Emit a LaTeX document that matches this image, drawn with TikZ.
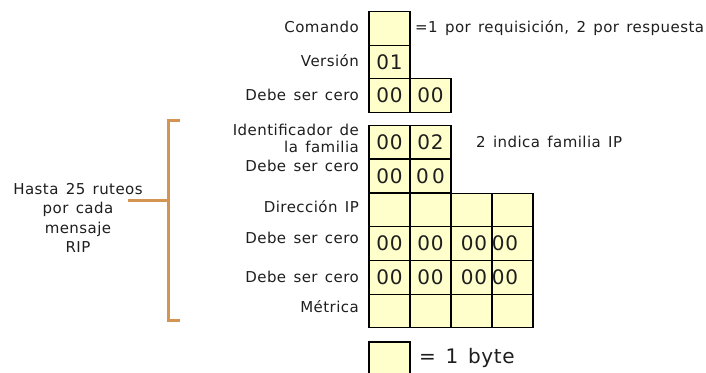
\documentclass[tikz,border=0pt]{standalone}
\usepackage{fontspec}
\setmainfont[WordSpace=1.4,LetterSpace=3]{DejaVu Sans}
\definecolor{cellfill}{RGB}{255,255,204}
\definecolor{brk}{RGB}{212,148,82}
\definecolor{txt}{RGB}{30,30,30}
\tikzset{
  cell/.style={draw=black, line width=1.3pt, fill=cellfill, minimum width=41pt, minimum height=33.6pt, inner sep=0pt, outer sep=0pt, font=\fontsize{20}{24}\selectfont, text=txt},
  digits/.style={inner sep=0pt, font=\fontsize{20}{24}\selectfont, text=txt},
  lbl/.style={anchor=east, inner sep=0pt, font=\fontsize{15}{16.5}\selectfont, text=txt, align=right},
  note/.style={anchor=west, inner sep=0pt, font=\fontsize{15}{18}\selectfont, text=txt},
  bracket/.style={draw=brk, line width=3pt}
}
\begin{document}
\begin{tikzpicture}[x=1pt,y=-1pt]
\useasboundingbox (0,0) rectangle (706,372);
% top group
\node[cell] (com) at (389.5,28.5) {};
\node[cell] (ver) at (389.5,62) {01};
\node[cell] (d1a) at (389.5,95.5) {00};
\node[cell] (d1b) at (430.5,95.5) {00};
% route entry
\node[cell] (fa) at (389.5,142) {00};
\node[cell] (fb) at (430.5,142) {02};
\node[cell] (d2a) at (389.5,176) {00};
\node[cell] (d2b) at (430.5,176) {0\,0};
\node[cell] (ipa) at (389.5,210) {};
\node[cell] (ipb) at (430.5,210) {};
\node[cell] (ipc) at (471.5,210) {};
\node[cell] (ipd) at (512.5,210) {};
\node[cell] (d3a) at (389.5,243.5) {00};
\node[cell] (d3b) at (430.5,243.5) {00};
\node[cell] (d3c) at (471.5,243.5) {};
\node[cell] (d3d) at (512.5,243.5) {};
\node[cell] (d4a) at (389.5,277.5) {00};
\node[cell] (d4b) at (430.5,277.5) {00};
\node[cell] (d4c) at (471.5,277.5) {};
\node[cell] (d4d) at (512.5,277.5) {};
\node[cell] (ma) at (389.5,311) {};
\node[cell] (mb) at (430.5,311) {};
\node[cell] (mc) at (471.5,311) {};
\node[cell] (md) at (512.5,311) {};
\node[digits] (t3c) at (474,243.5) {00};
\node[digits] (t3d) at (505,243.5) {00};
\node[digits] (t4c) at (474,277.5) {00};
\node[digits] (t4d) at (505,277.5) {00};
% legend
\node[cell, minimum height=32pt] (leg) at (389.5,358) {};
\node[anchor=west, inner sep=0pt, font=\fontsize{20}{24}\selectfont, text=txt] (legt) at (419,358) {= 1 byte};
% labels
\node[lbl] (lcom) at (359,27) {Comando};
\node[lbl] (lver) at (359,61) {Versión};
\node[lbl] (ld1) at (359,95) {Debe ser cero};
\node[lbl] (lfam) at (359,138.5) {Identificador de\\la familia};
\node[lbl] (ld2) at (359,166) {Debe ser cero};
\node[lbl] (lip) at (359,207) {Dirección IP};
\node[lbl] (ld3) at (359,238) {Debe ser cero};
\node[lbl] (ld4) at (359,277) {Debe ser cero};
\node[lbl] (lmet) at (359,307) {Métrica};
% notes
\node[note] (ncom) at (415,28) {=1 por requisición, 2 por respuesta};
\node[note] (nfam) at (476,142) {2 indica familia IP};
% bracket
\node[align=center, inner sep=0pt, font=\fontsize{15}{19.5}\selectfont, text=txt] (hasta) at (78,218) {Hasta 25 ruteos\\por cada\\mensaje\\RIP};
\coordinate (btop) at (180,120);
\coordinate (bbot) at (180,320);
\coordinate (bmid) at (168,200.5);
\coordinate (stem) at (128,200.5);
\draw[bracket] (btop) -| (bmid) |- (bbot);
\draw[bracket] (stem) -- (bmid);
\end{tikzpicture}
\end{document}
